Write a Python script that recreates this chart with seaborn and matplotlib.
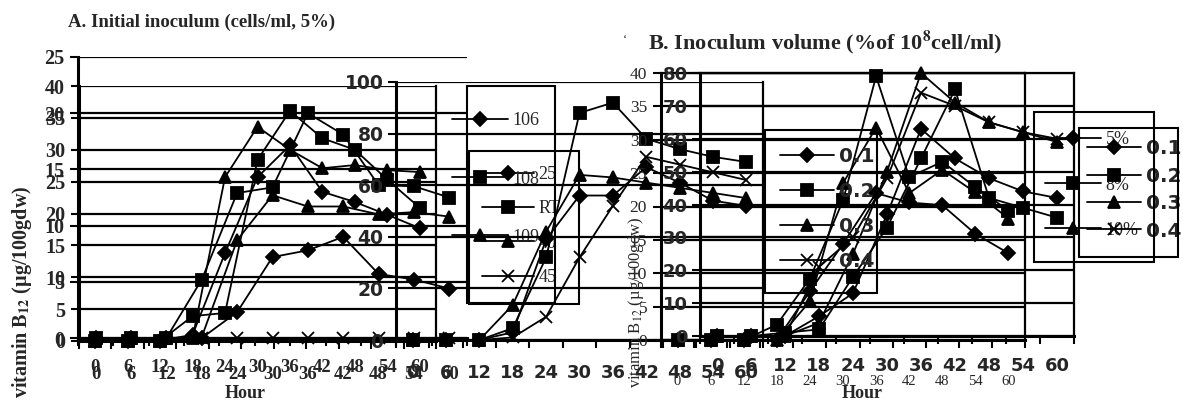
import matplotlib
matplotlib.use("Agg")
import matplotlib.pyplot as plt
import seaborn as sns
import pandas as pd
import numpy as np
from matplotlib.lines import Line2D
from matplotlib.patches import Rectangle

sns.set_theme(style="white")
plt.rcParams['font.family'] = ['Liberation Serif', 'DejaVu Serif']
plt.rcParams['mathtext.fontset'] = 'stix'

W, H, DPI = 1183, 403, 100
SERIF = 'Liberation Serif'
SANS = 'DejaVu Sans'

hours = [0, 6, 12, 18, 24, 30, 36, 42, 48, 54, 60]

# Panel A, chart 1 (serif axis 0-40)
a1_names = ["106", "108", "109"]
a1_106 = [0, 0, 0, 1.0, 13.8, 25.7, 30.7, 23.4, 21.8, 19.8, 17.7]
a1_108 = [0, 0, 0, 3.9, 4.4, 28.4, 36.1, 31.8, 30.0, 25.3, 20.9]
a1_109 = [0, 0, 0, 0.5, 25.7, 33.6, 30.0, 27.1, 27.6, 26.8, 26.5]

# Panel A, chart 2 (serif axis 0-25)
a2_names = ["25", "RT", "40", "45"]
a2_25 = [0, 0, 0, 0, 2.3, 7.2, 7.8, 9.0, 5.7, 5.2, 4.4]
a2_rt = [0, 0, 0, 5.2, 12.9, 13.4, 20.0, 18.1, 13.6, 13.5, 12.5]
a2_40 = [0, 0, 0, 0.1, 8.7, 12.7, 11.7, 11.7, 11.0, 11.2, 10.8]
a2_45 = [0, 0, 0, 0, 0, 0, 0, 0, 0, 0, 0]

# Panel A, chart 3 (sans axis 0-100)
a3_names = ["d", "s", "t", "x"]
a3_d = [0, 0, 0, 3, 39, 56, 56, 67, 61, 54, 52]
a3_s = [0, 0, 0, 4.6, 32, 88, 92, 78, 74, 71, 69]
a3_t = [0, 0, 0, 13.6, 42, 64, 63, 61, 59, 57, 55]
a3_x = [0, 0, 0, 1, 9, 32, 52, 71, 68, 65, 62]

# Panel B, chart 1 (sans axis 0-80)
b1_names = ["0.1", "0.2", "0.3", "0.4"]
b1_01 = [0, 0, 0, 6, 13, 37, 63, 54, 48, 44, 42]
b1_02 = [0, 0, 1, 2, 18, 33, 54, 75, 42, 39, 36]
b1_03 = [0, 0, 0, 4, 25, 50, 80, 71, 65, 62, 59]
b1_04 = [0, 0, 0, 21, 30, 48, 74, 70, 65, 62, 60]

# Panel B, chart 2 (serif axis 0-40)
b2_names = ["5%", "8%", "10%"]
b2_5 = [0, 0, 0, 0, 7.3, 14.4, 22.0, 20.6, 20.2, 15.9, 13.0]
b2_8 = [0, 0, 0, 2.3, 9.2, 20.9, 39.5, 24.4, 26.7, 22.9, 19.4]
b2_10 = [0, 0, 0, 0, 5.8, 23.5, 31.8, 22.0, 25.5, 22.1, 18.2]

MSIZE = {'D': 7.0, 's': 9.0, '^': 9.0, 'x': 8.0}

fig = plt.figure(figsize=(W / DPI, H / DPI), dpi=DPI)
fig.patch.set_facecolor('white')


def px_axes(x0, y0, x1, y1):
    ax = fig.add_axes([x0 / W, 1 - y1 / H, (x1 - x0) / W, (y1 - y0) / H])
    ax.set_facecolor('none')
    return ax


def draw(ax, names, arrays, markers):
    for name, arr, m in zip(names, arrays, markers):
        df = pd.DataFrame({'hour': hours, 'value': arr})
        sns.lineplot(data=df, x='hour', y='value', marker=m, color='black',
                     ax=ax, errorbar=None, sort=False, linewidth=1.3,
                     markersize=MSIZE[m], markeredgecolor='black',
                     markeredgewidth=1.3, clip_on=False, legend=False)


def setup(ax, ymax, ystep, yfont, yweight, ysize, xfont, xweight, xsize, xpad,
          ypad, right=False, top=False):
    ax.set_xlim(-3, 63)
    ax.set_ylim(0, ymax)
    ax.set_xticks(np.arange(-3, 64, 6), minor=True)
    ax.tick_params(axis='x', which='major', bottom=True, length=0, pad=xpad,
                   labelsize=xsize)
    ax.tick_params(axis='x', which='minor', bottom=True, length=6, width=1.5,
                   color='black')
    ax.tick_params(axis='y', which='major', left=True, length=6, width=1.5,
                   color='black', pad=ypad, labelsize=ysize)
    yt = list(range(0, ymax + 1, ystep))
    ax.set_yticks(yt, labels=[str(v) for v in yt])
    ax.set_xticks(hours, labels=[str(h) for h in hours])
    for lab in ax.get_yticklabels():
        lab.set_fontfamily(yfont)
        lab.set_fontweight(yweight)
        lab.set_fontsize(ysize)
    for lab in ax.get_xticklabels():
        lab.set_fontfamily(xfont)
        lab.set_fontweight(xweight)
        lab.set_fontsize(xsize)
    ax.grid(True, axis='y', color='black', linewidth=1.6)
    ax.grid(False, axis='x')
    for side in ['left', 'bottom']:
        ax.spines[side].set_visible(True)
        ax.spines[side].set_color('black')
        ax.spines[side].set_linewidth(2.2)
    ax.spines['right'].set_visible(right)
    ax.spines['top'].set_visible(top)
    for side in ['right', 'top']:
        ax.spines[side].set_color('black')
        ax.spines[side].set_linewidth(1.6)
    ax.set_xlabel('')
    ax.set_ylabel('')


def handles_for(markers):
    return [Line2D([], [], color='black', marker=m, markersize=MSIZE[m],
                   markeredgecolor='black', markeredgewidth=1.3, lw=1.3)
            for m in markers]


def put_legend(ax, markers, labels, x_px, yc_px, fs, step_px, handle_px,
               family, weight):
    fs_px = fs * DPI / 72
    leg = ax.legend(handles_for(markers), labels, loc='center left',
                    bbox_to_anchor=(x_px / W, 1 - yc_px / H),
                    bbox_transform=fig.transFigure, frameon=False,
                    borderpad=0, borderaxespad=0,
                    handlelength=handle_px / fs_px, handletextpad=0.25,
                    labelspacing=max(0.0, (step_px - 1.15 * fs_px) / fs_px),
                    prop={'family': family, 'weight': weight, 'size': fs})
    return leg


def box(x0, y0, x1, y1, lw=1.5):
    fig.patches.append(Rectangle((x0 / W, 1 - y1 / H), (x1 - x0) / W,
                                 (y1 - y0) / H, transform=fig.transFigure,
                                 fill=False, edgecolor='black', linewidth=lw))


# ---------- Panel A ----------
axA2 = px_axes(78, 57, 467, 338)
draw(axA2, a2_names, [a2_25, a2_rt, a2_40, a2_45], ['D', 's', '^', 'x'])
setup(axA2, 25, 5, SERIF, 'bold', 14.5, SERIF, 'bold', 13.5, 20, 4)

axA1 = px_axes(79, 86, 436, 341)
draw(axA1, a1_names, [a1_106, a1_108, a1_109], ['D', 's', '^'])
setup(axA1, 40, 5, SERIF, 'bold', 14.5, SERIF, 'bold', 13.5, 13, 4, right=True)

axA3 = px_axes(396, 82, 763, 340)
draw(axA3, a3_names, [a3_d, a3_s, a3_t, a3_x], ['D', 's', '^', 'x'])
setup(axA3, 100, 20, SANS, 'bold', 13.5, SANS, 'bold', 13, 17, 3, right=True)

# ---------- Panel B ----------
axB2 = px_axes(661, 73, 1025, 340)
draw(axB2, b2_names, [b2_5, b2_8, b2_10], ['D', 's', '^'])
setup(axB2, 40, 5, SERIF, 'normal', 12.5, SERIF, 'normal', 10.5, 25, 4,
      right=True, top=True)

axB1 = px_axes(700, 73, 1074, 336)
draw(axB1, b1_names, [b1_01, b1_02, b1_03, b1_04], ['D', 's', '^', 'x'])
setup(axB1, 80, 10, SANS, 'bold', 13, SANS, 'bold', 13, 15, 3,
      right=True, top=True)

# ---------- Legends ----------
put_legend(axA1, ['D', 's', '^'], a1_names, 452, 179, 13, 62, 56, SERIF, 'normal')
box(467, 86, 555, 303)
put_legend(axA2, ['D', 's', '^', 'x'], a2_names, 482, 226, 13, 38, 52, SERIF, 'normal')
box(469, 151, 579, 304)

put_legend(axB2, ['D', 's', '^'], b2_names, 1045, 185, 13, 49, 56, SERIF, 'normal')
box(1034, 112, 1154, 262)
legB1a = put_legend(axB1, ['D', 's', '^', 'x'], b1_names, 780, 209, 14.5, 39, 54, SANS, 'bold')
axB1.add_artist(legB1a)
box(765, 130, 877, 293)
put_legend(axB1, ['D', 's', '^', 'x'], b1_names, 1087, 190, 14.5, 31.5, 54, SANS, 'bold')
box(1079, 128, 1178, 257)

# ---------- Texts ----------
fig.text(68 / W, 1 - 22 / H, "A. Initial inoculum (cells/ml, 5%)",
         fontfamily=SERIF, fontweight='bold', fontsize=13.5, ha='left', va='center')
fig.text(648 / W, 1 - 42 / H, r"B. Inoculum volume (%of 10$^{\mathbf{8}}$cell/ml)",
         fontfamily=SERIF, fontweight='bold', fontsize=16, ha='left', va='center')
fig.text(625 / W, 1 - 40 / H, "‘", fontfamily=SERIF, fontsize=9,
         ha='center', va='center')
fig.text(22 / W, 1 - 292 / H, r"vitamin B$_{\mathbf{12}}$ (µg/100gdw)",
         fontfamily=SERIF, fontweight='bold', fontsize=14.5, rotation=90,
         ha='center', va='center')
fig.text(636 / W, 1 - 302 / H, r"vitamin B$_{12}$ (µg/100gdw)",
         fontfamily=SERIF, fontsize=12, rotation=90, ha='center', va='center')
fig.text(245 / W, 1 - 393 / H, "Hour", fontfamily=SERIF, fontweight='bold',
         fontsize=13, ha='center', va='center')
fig.text(862 / W, 1 - 393 / H, "Hour", fontfamily=SERIF, fontweight='bold',
         fontsize=13, ha='center', va='center')

fig.savefig("out.png", dpi=DPI, facecolor='white')
